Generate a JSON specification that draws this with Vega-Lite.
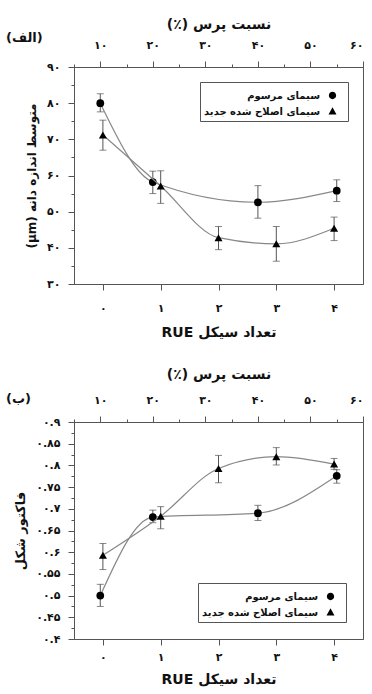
{
  "$schema": "https://vega.github.io/schema/vega-lite/v6.json",
  "padding": {"left": 5, "top": 16, "right": 7, "bottom": 2},
  "config": {
    "font": "DejaVu Sans",
    "view": {"stroke": "#555", "strokeWidth": 1},
    "axis": {"domainColor": "#555", "tickColor": "#555", "labelColor": "#111", "titleColor": "#111", "labelFont": "DejaVu Sans", "titleFont": "DejaVu Sans", "labelFontSize": 11, "labelFontWeight": "bold", "titleFontSize": 12, "titleFontWeight": "bold", "grid": false, "tickSize": 6, "labelPadding": 8, "titlePadding": 8, "labelOverlap": false},
    "legend": {"labelFont": "DejaVu Sans", "labelFontSize": 10, "labelFontWeight": "bold", "labelColor": "#111", "strokeColor": "#555", "fillColor": "white", "padding": 4, "rowPadding": 0, "title": null, "labelAlign": "right", "labelOffset": -22, "symbolOffset": 119},
    "title": {"font": "DejaVu Sans", "fontSize": 13, "fontWeight": "bold", "color": "#111"},
    "concat": {"spacing": 26}
  },
  "datasets": {
    "grain_conv": [
      {"series": "سیمای مرسوم", "press": 10, "value": 80, "lo": 77.6, "hi": 82.6},
      {"series": "سیمای مرسوم", "press": 20, "value": 58.2, "lo": 55, "hi": 61.2},
      {"series": "سیمای مرسوم", "press": 40, "value": 52.6, "lo": 48.2, "hi": 57.2},
      {"series": "سیمای مرسوم", "press": 55, "value": 55.8, "lo": 52.8, "hi": 58.8}
    ],
    "grain_new": [
      {"series": "سیمای اصلاح شده جدید", "cycle": 0, "value": 71.2, "lo": 67, "hi": 75.3},
      {"series": "سیمای اصلاح شده جدید", "cycle": 1, "value": 57.1, "lo": 52.3, "hi": 61.3},
      {"series": "سیمای اصلاح شده جدید", "cycle": 2, "value": 42.8, "lo": 39.5, "hi": 45.9},
      {"series": "سیمای اصلاح شده جدید", "cycle": 3, "value": 41.1, "lo": 36.3, "hi": 45.9},
      {"series": "سیمای اصلاح شده جدید", "cycle": 4, "value": 45.4, "lo": 42, "hi": 48.5}
    ],
    "shape_conv": [
      {"series": "سیمای مرسوم", "press": 10, "value": 0.5, "lo": 0.475, "hi": 0.526},
      {"series": "سیمای مرسوم", "press": 20, "value": 0.681, "lo": 0.668, "hi": 0.697},
      {"series": "سیمای مرسوم", "press": 40, "value": 0.69, "lo": 0.673, "hi": 0.708},
      {"series": "سیمای مرسوم", "press": 55, "value": 0.776, "lo": 0.759, "hi": 0.79}
    ],
    "shape_new": [
      {"series": "سیمای اصلاح شده جدید", "cycle": 0, "value": 0.593, "lo": 0.56, "hi": 0.62},
      {"series": "سیمای اصلاح شده جدید", "cycle": 1, "value": 0.683, "lo": 0.654, "hi": 0.705},
      {"series": "سیمای اصلاح شده جدید", "cycle": 2, "value": 0.793, "lo": 0.76, "hi": 0.823},
      {"series": "سیمای اصلاح شده جدید", "cycle": 3, "value": 0.82, "lo": 0.801, "hi": 0.841},
      {"series": "سیمای اصلاح شده جدید", "cycle": 4, "value": 0.803, "lo": 0.791, "hi": 0.816}
    ]
  },
  "vconcat": [
    {
      "width": 289,
      "height": 217,
      "title": {"text": "(الف)", "anchor": "start", "frame": "group", "offset": -28, "dx": -68},
      "layer": [
        {
          "data": {"name": "grain_conv"},
          "encoding": {
            "x": {"field": "press", "type": "quantitative", "title": "(٪) نسبت پرس", "scale": {"domain": [5, 60], "nice": false, "zero": false},
              "axis": {"orient": "top", "values": [5, 10, 15, 20, 25, 30, 35, 40, 45, 50, 55, 60], "tickCount": 100, "format": "d", "titleFontSize": 14, "labelPadding": 11, "titlePadding": 8, "labelOverlap": false,
                "labelExpr": "datum.value % 10 == 0 ? join(split(join(split(join(split(join(split(join(split(join(split(join(split(join(split(join(split(join(split(datum.label,'0'),'۰'),'1'),'۱'),'2'),'۲'),'3'),'۳'),'4'),'۴'),'5'),'۵'),'6'),'۶'),'7'),'۷'),'8'),'۸'),'9'),'۹') : ''",
                "tickSize": {"condition": {"test": "datum.value % 10 != 0", "value": 3}, "value": 6}}}
          },
          "layer": [
            {"mark": {"type": "line", "interpolate": "monotone", "color": "#888", "strokeWidth": 1.2},
              "encoding": {"y": {"field": "value", "type": "quantitative", "title": "(µm) متوسط اندازه دانه", "scale": {"domain": [30, 90], "nice": false, "zero": false},
                "axis": {"values": [30, 40, 50, 60, 70, 80, 90], "tickCount": 100, "format": "d", "labelOverlap": false,
                  "labelExpr": "join(split(join(split(join(split(join(split(join(split(join(split(join(split(join(split(join(split(join(split(datum.label,'0'),'۰'),'1'),'۱'),'2'),'۲'),'3'),'۳'),'4'),'۴'),'5'),'۵'),'6'),'۶'),'7'),'۷'),'8'),'۸'),'9'),'۹')"}}}},
            {"mark": {"type": "errorbar", "ticks": {"size": 7}, "color": "#555"},
              "encoding": {"y": {"field": "lo", "type": "quantitative", "title": "(µm) متوسط اندازه دانه"}, "y2": {"field": "hi"}}},
            {"mark": {"type": "point", "shape": "circle", "filled": true, "size": 60, "color": "black", "opacity": 1},
              "encoding": {"y": {"field": "value", "type": "quantitative", "title": "(µm) متوسط اندازه دانه"}}},
            {"mark": {"type": "point", "filled": true, "fill": "black", "stroke": "black", "strokeWidth": 1, "opacity": 0},
              "encoding": {"y": {"field": "value", "type": "quantitative", "title": "(µm) متوسط اندازه دانه"},
                "shape": {"field": "series", "type": "nominal", "scale": {"domain": ["سیمای مرسوم", "سیمای اصلاح شده جدید"], "range": ["M-1,0H1M-0.42,0A0.42,0.42 0 1,0 0.42,0A0.42,0.42 0 1,0 -0.42,0Z", "M-1,0H1M0,-0.48L0.46,0.34L-0.46,0.34Z"]},
                  "legend": {"orient": "top-right", "offset": 15, "symbolOpacity": 1, "symbolSize": 300, "symbolStrokeWidth": 1.2, "symbolStrokeColor": "black", "symbolFillColor": "black"}}}}
          ]
        },
        {
          "data": {"name": "grain_new"},
          "encoding": {
            "x": {"field": "cycle", "type": "quantitative", "title": "RUE تعداد سیکل", "scale": {"domain": [-0.5, 4.5], "nice": false, "zero": false},
              "axis": {"orient": "bottom", "values": [0, 1, 2, 3, 4], "tickCount": 100, "format": "d", "titleFontSize": 14, "labelPadding": 12, "titlePadding": 12,
                "labelExpr": "join(split(join(split(join(split(join(split(join(split(join(split(join(split(join(split(join(split(join(split(datum.label,'0'),'۰'),'1'),'۱'),'2'),'۲'),'3'),'۳'),'4'),'۴'),'5'),'۵'),'6'),'۶'),'7'),'۷'),'8'),'۸'),'9'),'۹')"}}
          },
          "layer": [
            {"mark": {"type": "line", "interpolate": "monotone", "color": "#888", "strokeWidth": 1.2},
              "encoding": {"y": {"field": "value", "type": "quantitative", "axis": {"orient": "left", "values": [35, 45, 55, 65, 75, 85], "tickCount": 100, "labels": false, "title": null, "domain": false, "tickSize": 3}}}},
            {"mark": {"type": "errorbar", "ticks": {"size": 7}, "color": "#555"},
              "encoding": {"y": {"field": "lo", "type": "quantitative", "axis": {"orient": "left", "values": [35, 45, 55, 65, 75, 85], "tickCount": 100, "labels": false, "title": null, "domain": false, "tickSize": 3}}, "y2": {"field": "hi"}}},
            {"mark": {"type": "point", "shape": "triangle-up", "filled": true, "size": 65, "color": "black", "opacity": 1},
              "encoding": {"y": {"field": "value", "type": "quantitative", "axis": {"orient": "left", "values": [35, 45, 55, 65, 75, 85], "tickCount": 100, "labels": false, "title": null, "domain": false, "tickSize": 3}}}}
          ]
        }
      ],
      "resolve": {"scale": {"x": "independent"}, "axis": {"y": "independent"}}
    },
    {
      "width": 289,
      "height": 217,
      "title": {"text": "(ب)", "anchor": "start", "frame": "group", "offset": -39, "dx": -68},
      "layer": [
        {
          "data": {"name": "shape_conv"},
          "encoding": {
            "x": {"field": "press", "type": "quantitative", "title": "(٪) نسبت پرس", "scale": {"domain": [5, 60], "nice": false, "zero": false},
              "axis": {"orient": "top", "values": [5, 10, 15, 20, 25, 30, 35, 40, 45, 50, 55, 60], "tickCount": 100, "format": "d", "titleFontSize": 14, "labelPadding": 11, "titlePadding": 13, "labelOverlap": false,
                "labelExpr": "datum.value % 10 == 0 ? join(split(join(split(join(split(join(split(join(split(join(split(join(split(join(split(join(split(join(split(datum.label,'0'),'۰'),'1'),'۱'),'2'),'۲'),'3'),'۳'),'4'),'۴'),'5'),'۵'),'6'),'۶'),'7'),'۷'),'8'),'۸'),'9'),'۹') : ''",
                "tickSize": {"condition": {"test": "datum.value % 10 != 0", "value": 3}, "value": 6}}}
          },
          "layer": [
            {"mark": {"type": "line", "interpolate": "monotone", "color": "#888", "strokeWidth": 1.2},
              "encoding": {"y": {"field": "value", "type": "quantitative", "title": "فاکتور شکل", "scale": {"domain": [0.4, 0.9], "nice": false, "zero": false},
                "axis": {"values": [0.4, 0.45, 0.5, 0.55, 0.6, 0.65, 0.7, 0.75, 0.8, 0.85, 0.9], "tickCount": 100, "format": ".2~f", "titleFontSize": 13, "labelOverlap": false,
                  "labelExpr": "join(split(join(split(join(split(join(split(join(split(join(split(join(split(join(split(join(split(join(split(datum.label,'0'),'۰'),'1'),'۱'),'2'),'۲'),'3'),'۳'),'4'),'۴'),'5'),'۵'),'6'),'۶'),'7'),'۷'),'8'),'۸'),'9'),'۹')"}}}},
            {"mark": {"type": "errorbar", "ticks": {"size": 7}, "color": "#555"},
              "encoding": {"y": {"field": "lo", "type": "quantitative", "title": "فاکتور شکل"}, "y2": {"field": "hi"}}},
            {"mark": {"type": "point", "shape": "circle", "filled": true, "size": 60, "color": "black", "opacity": 1},
              "encoding": {"y": {"field": "value", "type": "quantitative", "title": "فاکتور شکل"}}},
            {"mark": {"type": "point", "filled": true, "fill": "black", "stroke": "black", "strokeWidth": 1, "opacity": 0},
              "encoding": {"y": {"field": "value", "type": "quantitative", "title": "فاکتور شکل"},
                "shape": {"field": "series", "type": "nominal", "scale": {"domain": ["سیمای مرسوم", "سیمای اصلاح شده جدید"], "range": ["M-1,0H1M-0.42,0A0.42,0.42 0 1,0 0.42,0A0.42,0.42 0 1,0 -0.42,0Z", "M-1,0H1M0,-0.48L0.46,0.34L-0.46,0.34Z"]},
                  "legend": {"orient": "bottom-right", "offset": 17, "symbolOpacity": 1, "symbolSize": 300, "symbolStrokeWidth": 1.2, "symbolStrokeColor": "black", "symbolFillColor": "black"}}}}
          ]
        },
        {
          "data": {"name": "shape_new"},
          "encoding": {
            "x": {"field": "cycle", "type": "quantitative", "title": "RUE تعداد سیکل", "scale": {"domain": [-0.5, 4.5], "nice": false, "zero": false},
              "axis": {"orient": "bottom", "values": [0, 1, 2, 3, 4], "tickCount": 100, "format": "d", "titleFontSize": 14, "labelPadding": 6, "titlePadding": 10,
                "labelExpr": "join(split(join(split(join(split(join(split(join(split(join(split(join(split(join(split(join(split(join(split(datum.label,'0'),'۰'),'1'),'۱'),'2'),'۲'),'3'),'۳'),'4'),'۴'),'5'),'۵'),'6'),'۶'),'7'),'۷'),'8'),'۸'),'9'),'۹')"}}
          },
          "layer": [
            {"mark": {"type": "line", "interpolate": "monotone", "color": "#888", "strokeWidth": 1.2},
              "encoding": {"y": {"field": "value", "type": "quantitative", "axis": {"orient": "left", "values": [0.425, 0.475, 0.525, 0.575, 0.625, 0.675, 0.725, 0.775, 0.825, 0.875], "tickCount": 100, "labels": false, "title": null, "domain": false, "tickSize": 3}}}},
            {"mark": {"type": "errorbar", "ticks": {"size": 7}, "color": "#555"},
              "encoding": {"y": {"field": "lo", "type": "quantitative", "axis": {"orient": "left", "values": [0.425, 0.475, 0.525, 0.575, 0.625, 0.675, 0.725, 0.775, 0.825, 0.875], "tickCount": 100, "labels": false, "title": null, "domain": false, "tickSize": 3}}, "y2": {"field": "hi"}}},
            {"mark": {"type": "point", "shape": "triangle-up", "filled": true, "size": 65, "color": "black", "opacity": 1},
              "encoding": {"y": {"field": "value", "type": "quantitative", "axis": {"orient": "left", "values": [0.425, 0.475, 0.525, 0.575, 0.625, 0.675, 0.725, 0.775, 0.825, 0.875], "tickCount": 100, "labels": false, "title": null, "domain": false, "tickSize": 3}}}}
          ]
        }
      ],
      "resolve": {"scale": {"x": "independent"}, "axis": {"y": "independent"}}
    }
  ],
  "resolve": {"scale": {"shape": "independent"}, "legend": {"shape": "independent"}}
}
